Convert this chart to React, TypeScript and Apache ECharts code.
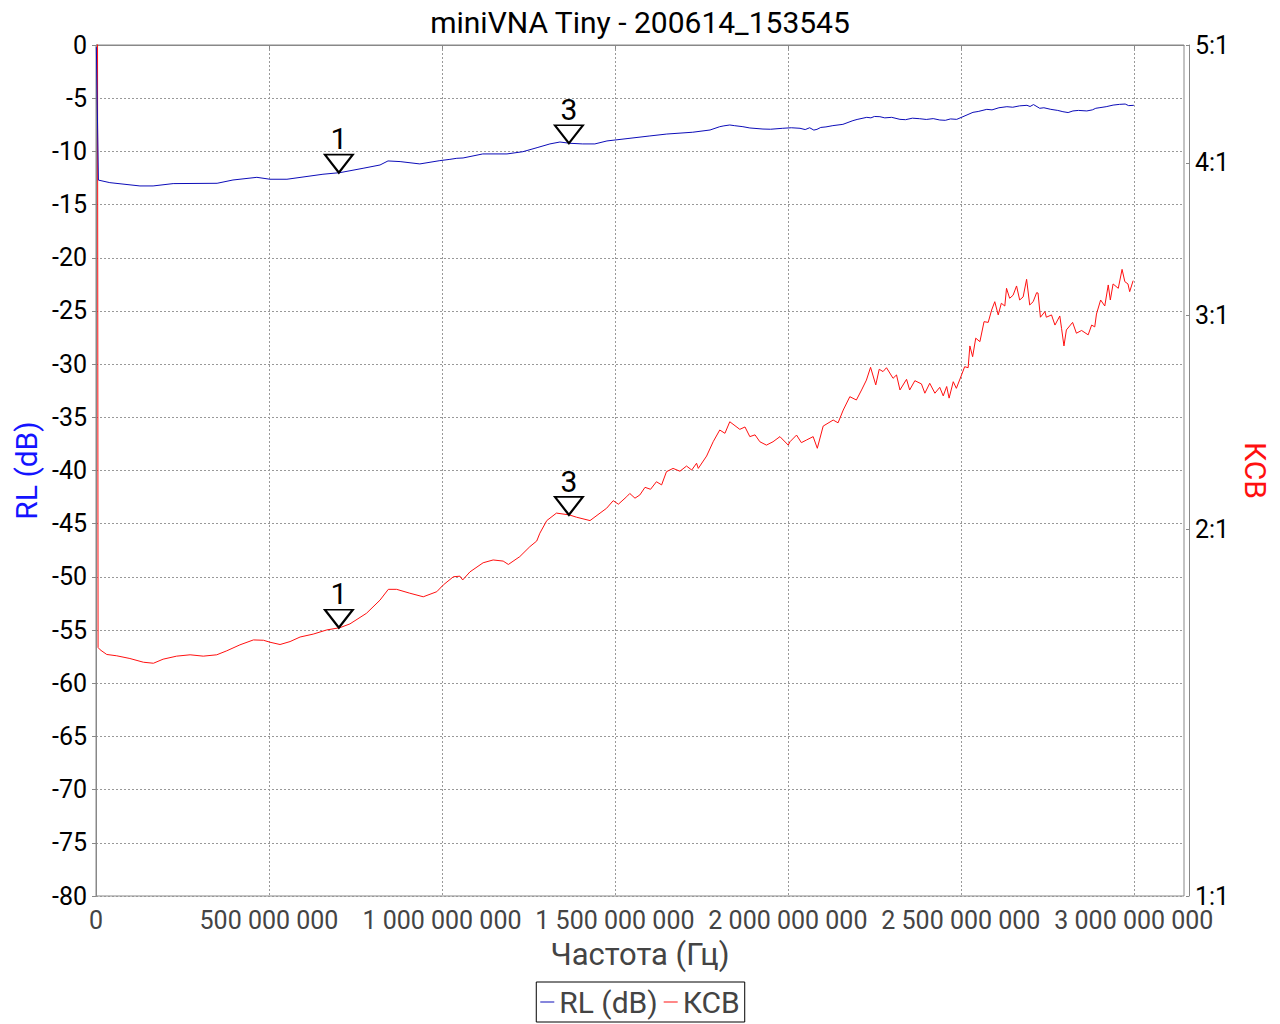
import React, { useEffect, useRef } from "react";
import * as echarts from "echarts";

const TITLE = "miniVNA Tiny - 200614_153545";
const X_NAME = "Частота (Гц)";
const RL_NAME = "RL (dB)";
const SWR_NAME = "КСВ";

// x axis ticks (Hz)
const xTicks = [0, 500e6, 1000e6, 1500e6, 2000e6, 2500e6, 3000e6];

// RL (dB) trace: frequency in MHz and value in dB
const rlFreqMHz = [
  1, 7, 40, 127, 165, 223, 350, 396, 465, 503, 552, 656, 705, 772, 821, 844, 879, 936, 994, 1023,
  1043, 1061, 1118, 1188, 1234, 1275, 1312, 1341, 1370, 1407, 1442, 1477, 1535, 1601, 1650, 1725,
  1775, 1803, 1815, 1832, 1845, 1870, 1890, 1928, 1950, 1985, 2010, 2035, 2050, 2063, 2075, 2084,
  2095, 2110, 2130, 2159, 2188, 2200, 2228, 2240, 2250, 2266, 2280, 2300, 2324, 2340, 2360, 2381,
  2400, 2420, 2439, 2455, 2470, 2488, 2506, 2535, 2550, 2575, 2590, 2610, 2633, 2650, 2670, 2691,
  2700, 2710, 2728, 2740, 2760, 2780, 2795, 2810, 2824, 2840, 2864, 2880, 2890, 2902, 2920, 2940,
  2959, 2975, 2985, 3000,
];
const rlValues = [
  -0.2, -12.7, -12.94, -13.25, -13.25, -13.03, -13.0, -12.69, -12.44, -12.62, -12.62, -12.15, -12.0,
  -11.59, -11.28, -10.9, -10.96, -11.18, -10.87, -10.75, -10.65, -10.62, -10.24, -10.24, -10.03,
  -9.65, -9.3, -9.12, -9.24, -9.3, -9.3, -9.02, -8.8, -8.55, -8.37, -8.2, -7.99, -7.68, -7.6, -7.52,
  -7.58, -7.68, -7.8, -7.9, -7.92, -7.83, -7.78, -7.83, -7.95, -7.78, -8.0, -7.93, -7.75, -7.7, -7.58,
  -7.46, -7.11, -7.0, -6.8, -6.85, -6.72, -6.74, -6.85, -6.8, -6.99, -7.02, -6.88, -6.93, -7.0, -6.92,
  -7.05, -7.08, -6.95, -6.99, -6.74, -6.33, -6.25, -6.05, -6.1, -5.9, -5.8, -5.85, -5.72, -5.67,
  -5.78, -5.6, -5.95, -5.9, -6.05, -6.15, -6.27, -6.35, -6.2, -6.15, -6.2, -6.1, -5.95, -5.89, -5.8,
  -5.65, -5.58, -5.55, -5.7, -5.67,
];

// VSWR trace: frequency in MHz and ratio value
const swrFreqMHz = [
  1, 6, 12, 31, 60, 98, 137, 166, 194, 233, 272, 310, 349, 378, 416, 455, 484, 503, 532, 561, 590,
  628, 667, 705, 734, 782, 821, 845, 869, 907, 946, 985, 1004, 1033, 1052, 1060, 1081, 1119, 1148,
  1177, 1192, 1225, 1254, 1274, 1283, 1303, 1331, 1368, 1389, 1428, 1457, 1476, 1495, 1510, 1534,
  1543, 1558, 1572, 1587, 1603, 1620, 1635, 1649, 1668, 1688, 1707, 1722, 1736, 1741, 1765, 1784,
  1803, 1818, 1832, 1861, 1876, 1890, 1905, 1919, 1938, 1957, 1977, 2001, 2006, 2025, 2039, 2054,
  2073, 2085, 2102, 2131, 2145, 2160, 2179, 2198, 2213, 2227, 2239, 2254, 2264, 2275, 2285, 2304,
  2314, 2324, 2343, 2352, 2367, 2386, 2396, 2410, 2425, 2439, 2449, 2459, 2466, 2478, 2487, 2502,
  2511, 2521, 2526, 2534, 2543, 2555, 2567, 2579, 2589, 2598, 2608, 2617, 2627, 2632, 2641, 2651,
  2661, 2670, 2680, 2690, 2699, 2709, 2719, 2723, 2730, 2743, 2747, 2762, 2772, 2786, 2791, 2798,
  2805, 2823, 2834, 2849, 2868, 2878, 2887, 2892, 2904, 2916, 2926, 2932, 2940, 2955, 2966, 2974,
  2983, 2988, 2998,
];
const swrValues = [
  60, 1.6, 1.593, 1.579, 1.575, 1.567, 1.556, 1.553, 1.565, 1.574, 1.578, 1.574, 1.578, 1.59, 1.608,
  1.623, 1.622, 1.616, 1.609, 1.618, 1.632, 1.641, 1.654, 1.661, 1.673, 1.707, 1.75, 1.786, 1.786,
  1.773, 1.761, 1.778, 1.801, 1.829, 1.831, 1.818, 1.846, 1.878, 1.888, 1.884, 1.872, 1.9, 1.936,
  1.957, 1.986, 2.034, 2.063, 2.056, 2.047, 2.034, 2.063, 2.082, 2.112, 2.098, 2.128, 2.141, 2.122,
  2.135, 2.166, 2.158, 2.189, 2.176, 2.231, 2.245, 2.233, 2.255, 2.238, 2.267, 2.245, 2.298, 2.361,
  2.414, 2.399, 2.452, 2.417, 2.428, 2.384, 2.392, 2.361, 2.346, 2.361, 2.384, 2.346, 2.361, 2.391,
  2.357, 2.369, 2.384, 2.332, 2.432, 2.46, 2.447, 2.507, 2.571, 2.555, 2.604, 2.653, 2.718, 2.629,
  2.708, 2.696, 2.716, 2.662, 2.679, 2.604, 2.657, 2.604, 2.65, 2.634, 2.588, 2.637, 2.588, 2.617,
  2.575, 2.621, 2.564, 2.645, 2.612, 2.679, 2.721, 2.716, 2.83, 2.773, 2.872, 2.853, 2.963, 2.959,
  3.029, 3.077, 3.001, 3.068, 3.052, 3.156, 3.097, 3.115, 3.17, 3.087, 3.105, 3.21, 3.058, 3.077,
  3.13, 3.128, 2.988, 3.02, 2.988, 3.001, 2.944, 2.995, 2.926, 2.83, 2.917, 2.959, 2.899, 2.914,
  2.89, 2.944, 2.934, 3.006, 3.087, 3.052, 3.176, 3.087, 3.182, 3.156, 3.271, 3.196, 3.182, 3.136,
  3.202,
];

// markers
const markerNames = ["1", "3"];
const markerFreqMHz = [702, 1367];
const markerRL = [-12.0, -9.24];
const markerSWR = [1.661, 2.056];

const FONT = "Roboto";
const BLUE_LINE = "#0c0cb8";
const BLUE_TEXT = "#1414ff";
const RED = "#ff1010";

const fmtHz = (v: number) => String(Math.round(v)).replace(/\B(?=(\d{3})+(?!\d))/g, " ");
const fmtRatio = (v: number) => `${Math.round(v)}:1`;

function markerOpt(values: number[]) {
  return {
    symbol: "path://M0 0L28 0L14 18Z",
    symbolSize: [28, 18],
    symbolOffset: [0, -9],
    silent: true,
    itemStyle: { color: "rgba(255,255,255,0)", borderColor: "#000", borderWidth: 2 },
    label: {
      show: true,
      position: "top",
      distance: 0,
      fontSize: 30,
      color: "#000",
      fontFamily: FONT,
      formatter: (p: any) => p.name,
    },
    data: markerNames.map((n, i) => ({ name: n, coord: [markerFreqMHz[i] * 1e6, values[i]] })),
  };
}

// right-hand log axes: together they label 1:1 .. 5:1 on one log scale
function rightLogAxis(base: number, opts: { main?: boolean; showMin?: boolean; showMax?: boolean; pad?: number[] }) {
  return {
    type: "log",
    logBase: base,
    min: 1,
    max: 5,
    position: "right",
    offset: 5,
    name: opts.main ? SWR_NAME : "",
    nameLocation: "middle",
    nameGap: 46,
    nameRotate: -90,
    nameTextStyle: { fontSize: 30, color: RED, fontFamily: FONT },
    axisLine: { show: !!opts.main, lineStyle: { color: "#888" } },
    axisTick: { show: true, inside: true, length: 3, lineStyle: { color: "#888" } },
    axisLabel: {
      fontSize: 25,
      lineHeight: 22,
      color: "#000",
      margin: 6,
      fontFamily: FONT,
      formatter: fmtRatio,
      showMinLabel: !!opts.showMin,
      showMaxLabel: !!opts.showMax,
      padding: opts.pad || 0,
    },
    splitLine: { show: false },
    minorTick: { show: false },
  };
}

export default function App() {
  const ref = useRef<HTMLDivElement>(null);
  useEffect(() => {
    const chart = echarts.init(ref.current!, null, { renderer: "svg" });
    const option: any = {
      animation: false,
      backgroundColor: "#fff",
      textStyle: { fontFamily: FONT },
      title: {
        text: TITLE,
        left: "center",
        top: 2,
        textStyle: { fontSize: 30, fontWeight: "normal", color: "#000", fontFamily: FONT },
      },
      legend: {
        bottom: 2,
        left: "center",
        data: [RL_NAME, SWR_NAME],
        icon: "rect",
        borderColor: "#000",
        borderWidth: 1,
        padding: [5, 5, 5, 4],
        itemGap: 6,
        itemWidth: 14,
        itemHeight: 1,
        textStyle: { fontSize: 30, color: "#444", fontFamily: FONT },
      },
      grid: {
        left: 96,
        right: 96,
        top: 45,
        bottom: 128,
        show: true,
        borderColor: "#888",
        borderWidth: 1,
      },
      xAxis: {
        type: "value",
        min: 0,
        max: 3145e6,
        interval: 500e6,
        offset: 4,
        name: X_NAME,
        nameLocation: "middle",
        nameGap: 39,
        nameTextStyle: { fontSize: 31, color: "#444", fontFamily: FONT },
        axisLine: { show: true, lineStyle: { color: "#888" } },
        axisTick: { show: true, length: 4, lineStyle: { color: "#888" }, customValues: xTicks },
        axisLabel: {
          fontSize: 25,
          lineHeight: 22,
          color: "#444",
          margin: 9,
          fontFamily: FONT,
          formatter: fmtHz,
          customValues: xTicks,
        },
        splitLine: { show: true, lineStyle: { color: "#999", type: [2, 2], width: 1 } },
      },
      yAxis: [
        {
          type: "value",
          min: -80,
          max: 0,
          interval: 5,
          position: "left",
          offset: 3,
          name: RL_NAME,
          nameLocation: "middle",
          nameGap: 49,
          nameTextStyle: { fontSize: 30, color: BLUE_TEXT, fontFamily: FONT },
          axisLine: { show: true, lineStyle: { color: "#888" } },
          axisTick: { show: true, length: 4, lineStyle: { color: "#888" } },
          axisLabel: { fontSize: 25, color: "#000", margin: 6, fontFamily: FONT },
          splitLine: { show: true, lineStyle: { color: "#999", type: [2, 2], width: 1 } },
        },
        rightLogAxis(5, { main: true, showMax: true }),
        rightLogAxis(2, {}),
        rightLogAxis(3, {}),
        rightLogAxis(5, { showMin: true, pad: [0, 0, 5, 0] }),
      ],
      series: [
        {
          type: "line",
          name: RL_NAME,
          xAxisIndex: 0,
          yAxisIndex: 0,
          symbol: "none",
          showSymbol: false,
          lineStyle: { width: 1, color: BLUE_LINE },
          itemStyle: { color: BLUE_LINE },
          data: rlFreqMHz.map((f, i) => [f * 1e6, rlValues[i]]),
          markPoint: markerOpt(markerRL),
          z: 3,
        },
        {
          type: "line",
          name: SWR_NAME,
          xAxisIndex: 0,
          yAxisIndex: 1,
          symbol: "none",
          showSymbol: false,
          lineStyle: { width: 1, color: RED },
          itemStyle: { color: RED },
          data: swrFreqMHz.map((f, i) => [f * 1e6, swrValues[i]]),
          markPoint: markerOpt(markerSWR),
          z: 2,
        },
      ],
    };
    chart.setOption(option);
    return () => chart.dispose();
  }, []);
  return (
    <div
      ref={ref}
      style={{ position: "absolute", left: 0, top: 0, width: 1280, height: 1024, background: "#fff" }}
    />
  );
}
